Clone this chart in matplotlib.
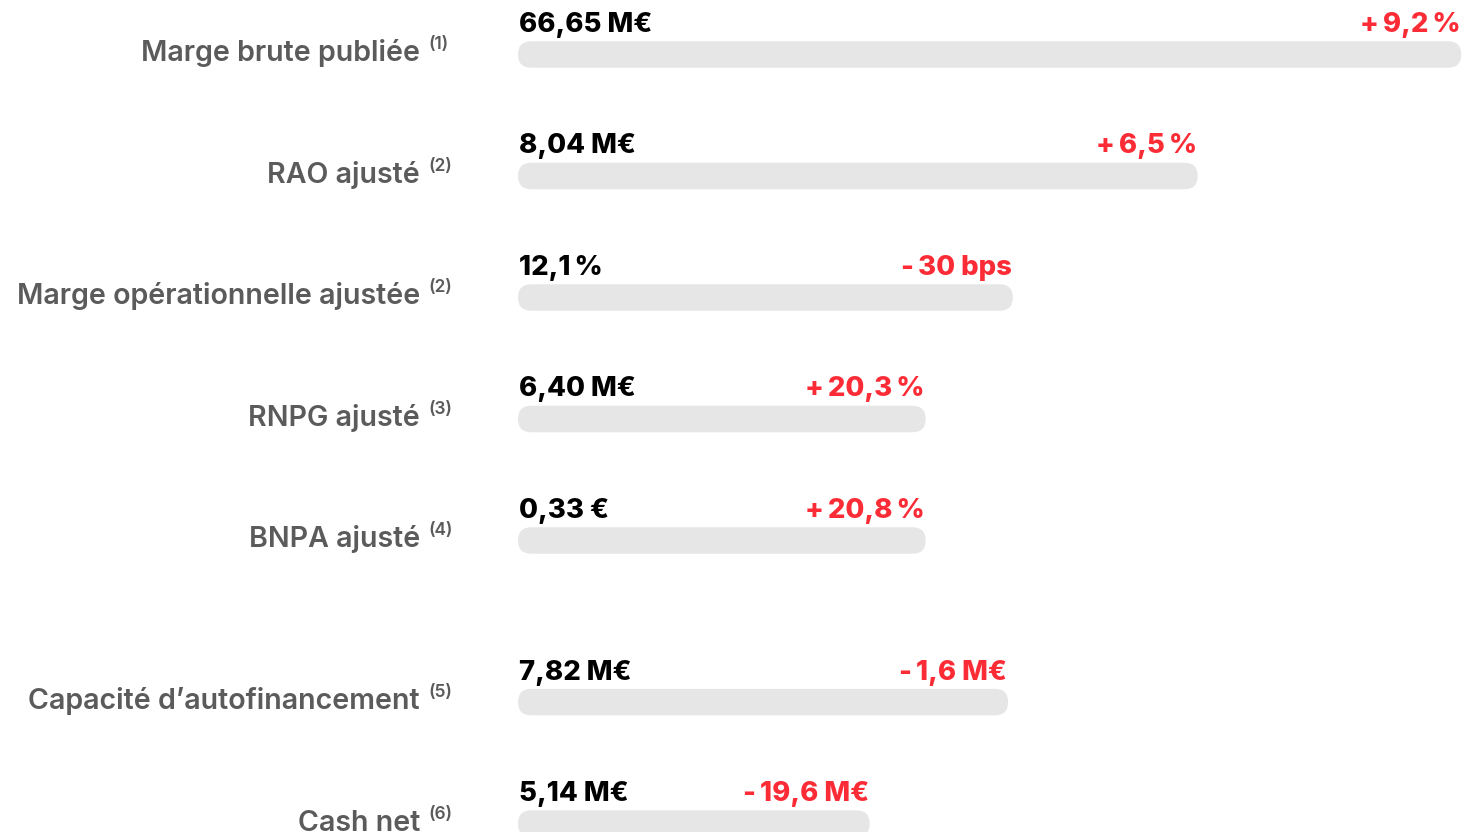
import matplotlib.pyplot as plt
from matplotlib.patches import FancyBboxPatch

plt.rcParams['font.family'] = ['Inter', 'DejaVu Sans']

TS = '\u2009'  # thin space, as in the source figures

# rows, top to bottom
labels = ['Marge brute publiée', 'RAO ajusté', 'Marge opérationnelle ajustée', 'RNPG ajusté',
          'BNPA ajusté', 'Capacité d\u2019autofinancement', 'Cash net']
notes = ['(1)', '(2)', '(2)', '(3)', '(4)', '(5)', '(6)']
values = ['66,65 M€', '8,04 M€', f'12,1{TS}%', '6,40 M€', '0,33 €', '7,82 M€', '5,14 M€']
changes = [f'+{TS}9,2{TS}%', f'+{TS}6,5{TS}%', f'-{TS}30 bps', f'+{TS}20,3{TS}%',
           f'+{TS}20,8{TS}%', f'-{TS}1,6 M€', f'-{TS}19,6 M€']
# bar lengths as share of the drawing width
bar_len = [99.5, 71.7, 52.2, 43.0, 43.0, 51.7, 37.1]
# vertical slot of each row (a wider gap before the cash-flow block)
row_pos = [0, 1, 2, 3, 4, 5.33, 6.33]

W, H = 1466, 832
fig = plt.figure(figsize=(W / 100, H / 100), dpi=100)
ax_left, ax_width = 518, 948
ax = fig.add_axes([ax_left / W, 0, ax_width / W, 1])
row_px = 121.5
top_px = 54.5
ax.set_xlim(0, 100)
ax.set_ylim((H - top_px) / row_px, -top_px / row_px)
ax.axis('off')

x_per_px = 100 / ax_width
y_per_px = 1 / row_px
bar_h = 26.5 * y_per_px
radius = 13.25 * x_per_px

grey = '#e6e6e6'
red = '#fb2c36'
label_col = '#5b5b5b'

for i in range(len(labels)):
    y = row_pos[i]
    bar = FancyBboxPatch((0, y - bar_h / 2), bar_len[i], bar_h,
                         boxstyle=f'round,pad=0,rounding_size={radius}',
                         mutation_aspect=y_per_px / x_per_px,
                         facecolor=grey, edgecolor='none')
    ax.add_patch(bar)

    # value and change above the bar
    ax.annotate(values[i], xy=(0, y), xytext=(1, 22.5), textcoords='offset pixels',
                ha='left', va='baseline', fontsize=19.8, fontweight='heavy', color='black')
    ax.annotate(changes[i], xy=(bar_len[i], y), xytext=(-1, 22.5), textcoords='offset pixels',
                ha='right', va='baseline', fontsize=19.8, fontweight='heavy', color=red)

    # category name with its footnote mark
    ax.annotate(labels[i], xy=(0, y), xytext=(-98, -7), textcoords='offset pixels',
                ha='right', va='baseline', fontsize=20.6, fontweight='semibold', color=label_col)
    ax.annotate(notes[i], xy=(0, y), xytext=(-90, 9.5), textcoords='offset pixels',
                ha='left', va='center', fontsize=12.5, fontweight='semibold', color=label_col)

fig.savefig('out.png', dpi=100)
